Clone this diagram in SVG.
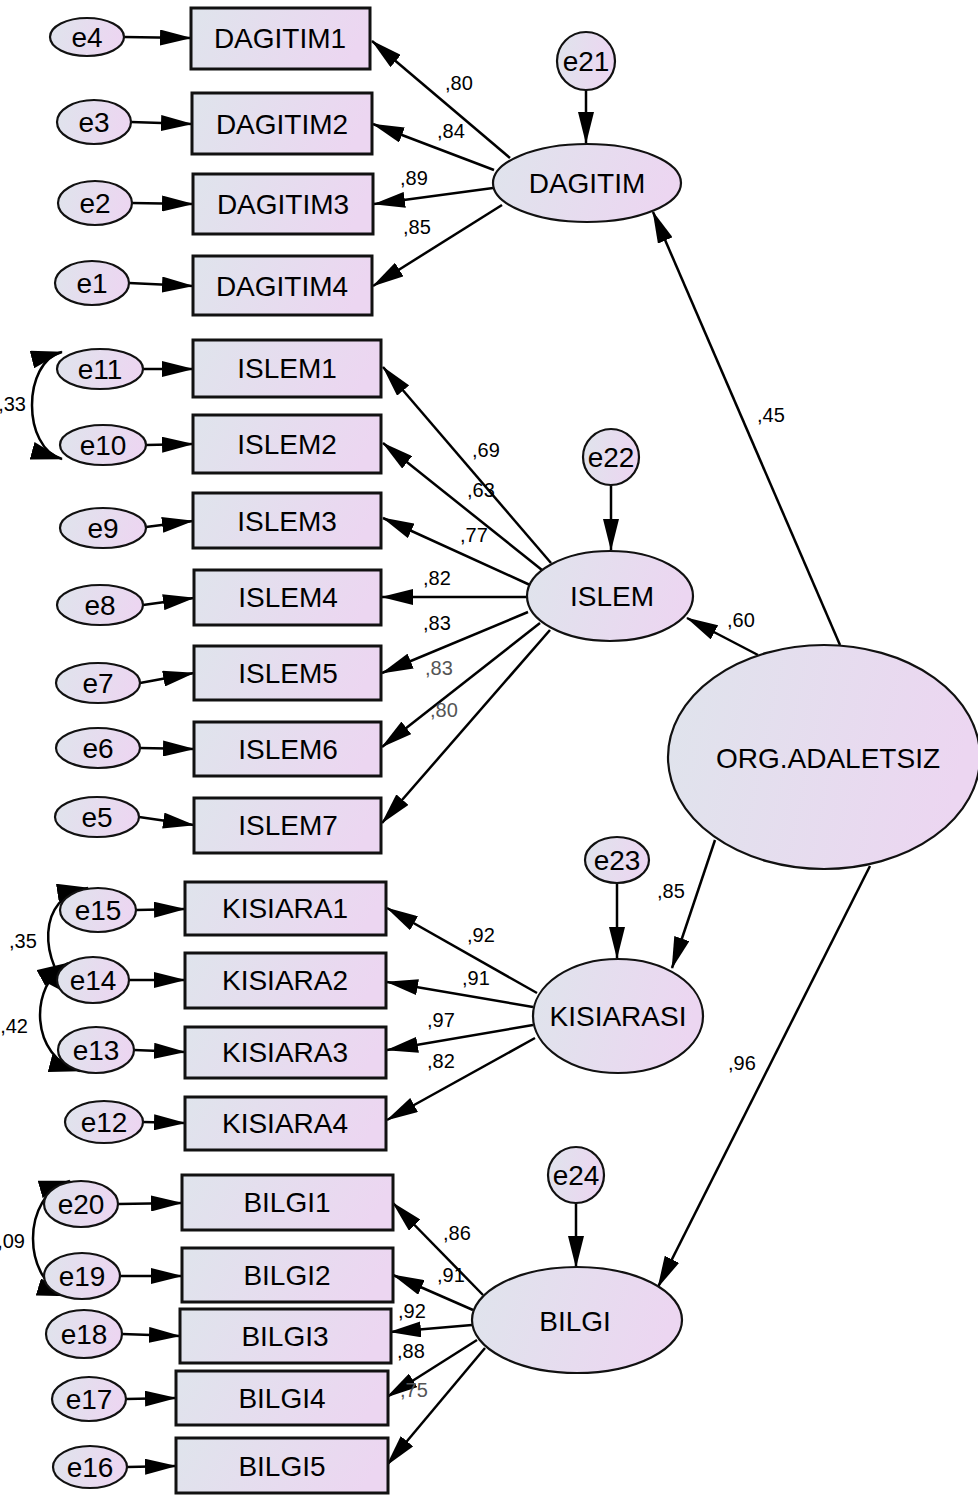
<svg xmlns="http://www.w3.org/2000/svg" width="978" height="1495" viewBox="0 0 978 1495">
<defs>
<linearGradient id="fillg" x1="0" y1="0" x2="1" y2="0.15">
<stop offset="0" stop-color="#dfe4ec"/>
<stop offset="1" stop-color="#ecd6f1"/>
</linearGradient>
<marker id="ah" viewBox="0 0 32 16" refX="31" refY="8" markerWidth="32" markerHeight="16" markerUnits="userSpaceOnUse" orient="auto">
<path d="M0,0 L32,8 L0,16 z" fill="#000"/>
</marker>
<marker id="ah2" viewBox="0 0 32 18" refX="31" refY="9" markerWidth="32" markerHeight="18" markerUnits="userSpaceOnUse" orient="auto-start-reverse">
<path d="M0,0 L32,9 L0,18 z" fill="#000"/>
</marker>
</defs>
<style>
.box{fill:url(#fillg);stroke:#111;stroke-width:3}
.ell{fill:url(#fillg);stroke:#111;stroke-width:2.2}
.t{font-family:"Liberation Sans",Arial,sans-serif;font-size:28px;fill:#000;text-anchor:middle}
.lb{font-family:"Liberation Sans",Arial,sans-serif;font-size:20px;fill:#000}
.lg{fill:#555}
.c{fill:none;stroke:#000;stroke-width:2.5;marker-end:url(#ah)}
.cv{fill:none;stroke:#000;stroke-width:2.5;marker-end:url(#ah2);marker-start:url(#ah2)}
</style>
<rect x="0" y="0" width="978" height="1495" fill="#fff"/>

<g id="connectors">
<!-- errors to indicators -->
<path class="c" d="M124,37 L191,38"/>
<path class="c" d="M131,122 L192,124"/>
<path class="c" d="M132,203 L193,204"/>
<path class="c" d="M129,283 L193,286"/>
<path class="c" d="M143,369 L193,369"/>
<path class="c" d="M146,445 L193,444"/>
<path class="c" d="M146,527 L193,521"/>
<path class="c" d="M143,605 L194,598"/>
<path class="c" d="M140,683 L194,673"/>
<path class="c" d="M140,748 L194,749"/>
<path class="c" d="M139,817 L194,825"/>
<path class="c" d="M136,910 L185,909"/>
<path class="c" d="M129,980 L185,980"/>
<path class="c" d="M134,1050 L185,1052"/>
<path class="c" d="M143,1122 L185,1123"/>
<path class="c" d="M118,1204 L182,1203"/>
<path class="c" d="M120,1276 L182,1276"/>
<path class="c" d="M122,1334 L180,1336"/>
<path class="c" d="M126,1399 L176,1398"/>
<path class="c" d="M127,1467 L176,1466"/>
<!-- residuals to latents -->
<path class="c" d="M586,90 L586,143"/>
<path class="c" d="M611,485 L611,550"/>
<path class="c" d="M617,883 L617,958"/>
<path class="c" d="M576,1203 L576,1267"/>
<!-- loadings -->
<path class="c" d="M510,158 L372,41"/>
<path class="c" d="M494,170 L373,124"/>
<path class="c" d="M493,188 L374,204"/>
<path class="c" d="M502,205 L373,286"/>
<path class="c" d="M551,563 L383,367"/>
<path class="c" d="M542,570 L383,443"/>
<path class="c" d="M530,585 L383,518"/>
<path class="c" d="M527,597 L382,597"/>
<path class="c" d="M528,612 L382,673"/>
<path class="c" d="M540,623 L382,747"/>
<path class="c" d="M550,630 L382,823"/>
<path class="c" d="M537,993 L387,908"/>
<path class="c" d="M533,1007 L387,982"/>
<path class="c" d="M533,1025 L387,1050"/>
<path class="c" d="M535,1038 L387,1120"/>
<path class="c" d="M483,1295 L393,1203"/>
<path class="c" d="M473,1310 L393,1275"/>
<path class="c" d="M472,1325 L390,1332"/>
<path class="c" d="M477,1340 L387,1397"/>
<path class="c" d="M485,1348 L387,1465"/>
<!-- structural -->
<path class="c" d="M840,645 L653,212"/>
<path class="c" d="M758,655 L687,618"/>
<path class="c" d="M715,840 L672,968"/>
<path class="c" d="M870,866 L658,1287"/>
<!-- covariances -->
<path class="cv" d="M62,352 C22,362 22,448 62,459"/>
<path class="cv" d="M88,888 C36,896 38,962 76,998"/>
<path class="cv" d="M68,963 C28,985 30,1058 80,1071"/>
<path class="cv" d="M70,1181 C20,1195 22,1282 68,1296"/>
<!-- labels -->
<text class="lb" x="445" y="90">,80</text>
<text class="lb" x="437" y="138">,84</text>
<text class="lb" x="400" y="185">,89</text>
<text class="lb" x="403" y="234">,85</text>
<text class="lb" x="472" y="457">,69</text>
<text class="lb" x="467" y="497">,63</text>
<text class="lb" x="460" y="542">,77</text>
<text class="lb" x="423" y="585">,82</text>
<text class="lb" x="423" y="630">,83</text>
<text class="lb lg" x="425" y="675">,83</text>
<text class="lb lg" x="430" y="717">,80</text>
<text class="lb" x="467" y="942">,92</text>
<text class="lb" x="462" y="985">,91</text>
<text class="lb" x="427" y="1027">,97</text>
<text class="lb" x="427" y="1068">,82</text>
<text class="lb" x="443" y="1240">,86</text>
<text class="lb" x="437" y="1282">,91</text>
<text class="lb" x="398" y="1318">,92</text>
<text class="lb" x="397" y="1358">,88</text>
<text class="lb lg" x="400" y="1397">,75</text>
<text class="lb" x="757" y="422">,45</text>
<text class="lb" x="727" y="627">,60</text>
<text class="lb" x="657" y="898">,85</text>
<text class="lb" x="728" y="1070">,96</text>
<text class="lb" x="26" y="411" text-anchor="end">,33</text>
<text class="lb" x="9" y="948">,35</text>
<text class="lb" x="28" y="1033" text-anchor="end">,42</text>
<text class="lb" x="25" y="1248" text-anchor="end">,09</text>
</g>

<g id="DAGITIM1"><rect class="box" x="191" y="8" width="179" height="61"/><text class="t" x="280" y="48">DAGITIM1</text></g>
<g id="DAGITIM2"><rect class="box" x="192" y="93" width="180" height="61"/><text class="t" x="282" y="134">DAGITIM2</text></g>
<g id="DAGITIM3"><rect class="box" x="193" y="174" width="180" height="60"/><text class="t" x="283" y="214">DAGITIM3</text></g>
<g id="DAGITIM4"><rect class="box" x="193" y="256" width="179" height="59"/><text class="t" x="282" y="296">DAGITIM4</text></g>
<g id="ISLEM1"><rect class="box" x="193" y="340" width="188" height="57"/><text class="t" x="287" y="378">ISLEM1</text></g>
<g id="ISLEM2"><rect class="box" x="193" y="415" width="188" height="58"/><text class="t" x="287" y="454">ISLEM2</text></g>
<g id="ISLEM3"><rect class="box" x="193" y="493" width="188" height="55"/><text class="t" x="287" y="531">ISLEM3</text></g>
<g id="ISLEM4"><rect class="box" x="194" y="570" width="187" height="55"/><text class="t" x="288" y="607">ISLEM4</text></g>
<g id="ISLEM5"><rect class="box" x="194" y="646" width="187" height="54"/><text class="t" x="288" y="683">ISLEM5</text></g>
<g id="ISLEM6"><rect class="box" x="194" y="722" width="187" height="54"/><text class="t" x="288" y="759">ISLEM6</text></g>
<g id="ISLEM7"><rect class="box" x="194" y="798" width="187" height="55"/><text class="t" x="288" y="835">ISLEM7</text></g>
<g id="KISIARA1"><rect class="box" x="185" y="882" width="201" height="53"/><text class="t" x="285" y="918">KISIARA1</text></g>
<g id="KISIARA2"><rect class="box" x="185" y="953" width="201" height="55"/><text class="t" x="285" y="990">KISIARA2</text></g>
<g id="KISIARA3"><rect class="box" x="185" y="1027" width="201" height="51"/><text class="t" x="285" y="1062">KISIARA3</text></g>
<g id="KISIARA4"><rect class="box" x="185" y="1097" width="201" height="53"/><text class="t" x="285" y="1133">KISIARA4</text></g>
<g id="BILGI1"><rect class="box" x="182" y="1175" width="211" height="55"/><text class="t" x="287" y="1212">BILGI1</text></g>
<g id="BILGI2"><rect class="box" x="182" y="1248" width="211" height="54"/><text class="t" x="287" y="1285">BILGI2</text></g>
<g id="BILGI3"><rect class="box" x="180" y="1309" width="211" height="54"/><text class="t" x="285" y="1346">BILGI3</text></g>
<g id="BILGI4"><rect class="box" x="176" y="1371" width="212" height="54"/><text class="t" x="282" y="1408">BILGI4</text></g>
<g id="BILGI5"><rect class="box" x="176" y="1438" width="212" height="55"/><text class="t" x="282" y="1476">BILGI5</text></g>

<g id="e4"><ellipse class="ell" cx="87" cy="37" rx="37" ry="19"/><text class="t" x="87" y="47">e4</text></g>
<g id="e3"><ellipse class="ell" cx="94" cy="122" rx="37" ry="22"/><text class="t" x="94" y="132">e3</text></g>
<g id="e2"><ellipse class="ell" cx="95" cy="203" rx="37" ry="22"/><text class="t" x="95" y="213">e2</text></g>
<g id="e1"><ellipse class="ell" cx="92" cy="283" rx="37" ry="22"/><text class="t" x="92" y="293">e1</text></g>
<g id="e11"><ellipse class="ell" cx="100" cy="369" rx="43" ry="20"/><text class="t" x="100" y="379">e11</text></g>
<g id="e10"><ellipse class="ell" cx="103" cy="445" rx="43" ry="20"/><text class="t" x="103" y="455">e10</text></g>
<g id="e9"><ellipse class="ell" cx="103" cy="528" rx="43" ry="20"/><text class="t" x="103" y="538">e9</text></g>
<g id="e8"><ellipse class="ell" cx="100" cy="605" rx="43" ry="20"/><text class="t" x="100" y="615">e8</text></g>
<g id="e7"><ellipse class="ell" cx="98" cy="683" rx="42" ry="20"/><text class="t" x="98" y="693">e7</text></g>
<g id="e6"><ellipse class="ell" cx="98" cy="748" rx="42" ry="20"/><text class="t" x="98" y="758">e6</text></g>
<g id="e5"><ellipse class="ell" cx="97" cy="817" rx="42" ry="20"/><text class="t" x="97" y="827">e5</text></g>
<g id="e15"><ellipse class="ell" cx="98" cy="910" rx="38" ry="22"/><text class="t" x="98" y="920">e15</text></g>
<g id="e14"><ellipse class="ell" cx="93" cy="980" rx="36" ry="23"/><text class="t" x="93" y="990">e14</text></g>
<g id="e13"><ellipse class="ell" cx="96" cy="1050" rx="38" ry="23"/><text class="t" x="96" y="1060">e13</text></g>
<g id="e12"><ellipse class="ell" cx="104" cy="1122" rx="39" ry="21"/><text class="t" x="104" y="1132">e12</text></g>
<g id="e20"><ellipse class="ell" cx="81" cy="1204" rx="37" ry="23"/><text class="t" x="81" y="1214">e20</text></g>
<g id="e19"><ellipse class="ell" cx="82" cy="1276" rx="38" ry="23"/><text class="t" x="82" y="1286">e19</text></g>
<g id="e18"><ellipse class="ell" cx="84" cy="1334" rx="38" ry="24"/><text class="t" x="84" y="1344">e18</text></g>
<g id="e17"><ellipse class="ell" cx="89" cy="1399" rx="37" ry="22"/><text class="t" x="89" y="1409">e17</text></g>
<g id="e16"><ellipse class="ell" cx="90" cy="1467" rx="37" ry="21"/><text class="t" x="90" y="1477">e16</text></g>

<g id="e21"><circle class="ell" cx="586" cy="61" r="29"/><text class="t" x="586" y="71">e21</text></g>
<g id="e22"><circle class="ell" cx="611" cy="457" r="28"/><text class="t" x="611" y="467">e22</text></g>
<g id="e23"><ellipse class="ell" cx="617" cy="860" rx="32" ry="23"/><text class="t" x="617" y="870">e23</text></g>
<g id="e24"><circle class="ell" cx="576" cy="1175" r="28"/><text class="t" x="576" y="1185">e24</text></g>

<g id="DAGITIM"><ellipse class="ell" cx="587" cy="183" rx="94" ry="39"/><text class="t" x="587" y="193">DAGITIM</text></g>
<g id="ISLEM"><ellipse class="ell" cx="610" cy="596" rx="83" ry="45"/><text class="t" x="612" y="606">ISLEM</text></g>
<g id="KISIARASI"><ellipse class="ell" cx="618" cy="1016" rx="85" ry="57"/><text class="t" x="618" y="1026">KISIARASI</text></g>
<g id="BILGI"><ellipse class="ell" cx="577" cy="1320" rx="105" ry="53"/><text class="t" x="575" y="1331">BILGI</text></g>
<g id="ORG.ADALETSIZ"><ellipse class="ell" cx="824" cy="757" rx="156" ry="112"/><text class="t" x="828" y="768">ORG.ADALETSIZ</text></g>
</svg>
